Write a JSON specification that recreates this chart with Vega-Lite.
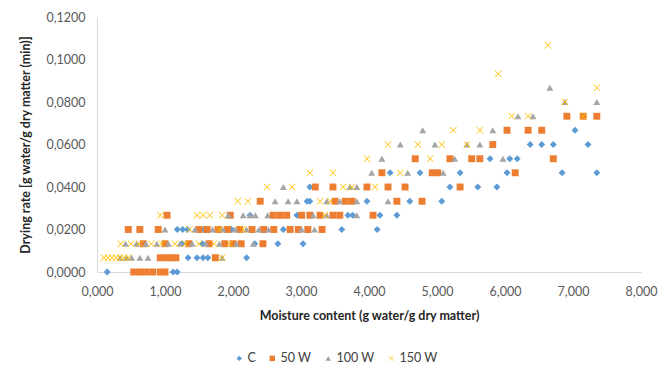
{
  "$schema": "https://vega.github.io/schema/vega-lite/v6.json",
  "width": 544,
  "height": 255,
  "autosize": {"type": "none"},
  "padding": {"left": 97, "top": 17, "right": 18, "bottom": 97},
  "background": "white",
  "config": {
    "view": {"stroke": null},
    "font": "Lato",
    "axis": {"grid": false, "ticks": false, "domainColor": "#d9d9d9", "domainWidth": 1, "labelColor": "#595959", "labelFontSize": 12.5, "labelFont": "Lato", "titleFont": "Lato", "titleFontSize": 12.5, "titleFontWeight": "bold", "titleColor": "#262626", "labelFlush": false, "labelOverlap": false}
  },
  "data": {"values": [
    {"m":0.15,"r":0,"s":"C"},{"m":1.12,"r":0,"s":"C"},{"m":1.18,"r":0,"s":"C"},
    {"m":1.34,"r":0.0067,"s":"C"},{"m":1.47,"r":0.0067,"s":"C"},{"m":1.56,"r":0.0067,"s":"C"},{"m":1.63,"r":0.0067,"s":"C"},{"m":2.2,"r":0.0067,"s":"C"},
    {"m":1.25,"r":0.0133,"s":"C"},{"m":1.55,"r":0.0133,"s":"C"},{"m":2.32,"r":0.0133,"s":"C"},{"m":2.66,"r":0.0133,"s":"C"},{"m":3.03,"r":0.0133,"s":"C"},
    {"m":1.18,"r":0.02,"s":"C"},{"m":1.26,"r":0.02,"s":"C"},{"m":1.33,"r":0.02,"s":"C"},{"m":1.57,"r":0.02,"s":"C"},{"m":1.98,"r":0.02,"s":"C"},{"m":2.74,"r":0.02,"s":"C"},{"m":3.6,"r":0.02,"s":"C"},{"m":4.12,"r":0.02,"s":"C"},
    {"m":2.25,"r":0.0267,"s":"C"},{"m":2.94,"r":0.0267,"s":"C"},{"m":3.69,"r":0.0267,"s":"C"},{"m":3.76,"r":0.0267,"s":"C"},{"m":4.16,"r":0.0267,"s":"C"},{"m":4.41,"r":0.0267,"s":"C"},
    {"m":3.09,"r":0.0333,"s":"C"},{"m":3.13,"r":0.0333,"s":"C"},{"m":3.97,"r":0.0333,"s":"C"},{"m":4.6,"r":0.0333,"s":"C"},{"m":5.07,"r":0.0333,"s":"C"},
    {"m":3.13,"r":0.04,"s":"C"},{"m":5.19,"r":0.04,"s":"C"},{"m":5.6,"r":0.04,"s":"C"},{"m":5.88,"r":0.04,"s":"C"},
    {"m":4.31,"r":0.0467,"s":"C"},{"m":4.75,"r":0.0467,"s":"C"},{"m":5.34,"r":0.0467,"s":"C"},{"m":6.03,"r":0.0467,"s":"C"},{"m":6.84,"r":0.0467,"s":"C"},{"m":7.35,"r":0.0467,"s":"C"},
    {"m":5.78,"r":0.0533,"s":"C"},{"m":6.07,"r":0.0533,"s":"C"},{"m":6.18,"r":0.0533,"s":"C"},
    {"m":6.37,"r":0.06,"s":"C"},{"m":6.54,"r":0.06,"s":"C"},{"m":6.71,"r":0.06,"s":"C"},{"m":7.22,"r":0.06,"s":"C"},
    {"m":7.03,"r":0.0667,"s":"C"},

    {"m":0.54,"r":0,"s":"50 W"},{"m":0.63,"r":0,"s":"50 W"},{"m":0.72,"r":0,"s":"50 W"},{"m":0.82,"r":0,"s":"50 W"},{"m":0.93,"r":0,"s":"50 W"},{"m":1.0,"r":0,"s":"50 W"},
    {"m":0.93,"r":0.0067,"s":"50 W"},{"m":1.01,"r":0.0067,"s":"50 W"},{"m":1.1,"r":0.0067,"s":"50 W"},{"m":1.16,"r":0.0067,"s":"50 W"},{"m":1.74,"r":0.0067,"s":"50 W"},
    {"m":0.68,"r":0.0133,"s":"50 W"},{"m":1.0,"r":0.0133,"s":"50 W"},{"m":1.35,"r":0.0133,"s":"50 W"},{"m":1.65,"r":0.0133,"s":"50 W"},{"m":1.88,"r":0.0133,"s":"50 W"},{"m":2.0,"r":0.0133,"s":"50 W"},{"m":2.12,"r":0.0133,"s":"50 W"},{"m":2.44,"r":0.0133,"s":"50 W"},
    {"m":0.46,"r":0.02,"s":"50 W"},{"m":0.63,"r":0.02,"s":"50 W"},{"m":0.9,"r":0.02,"s":"50 W"},{"m":1.5,"r":0.02,"s":"50 W"},{"m":1.62,"r":0.02,"s":"50 W"},{"m":1.78,"r":0.02,"s":"50 W"},{"m":1.92,"r":0.02,"s":"50 W"},{"m":2.1,"r":0.02,"s":"50 W"},{"m":2.28,"r":0.02,"s":"50 W"},{"m":2.45,"r":0.02,"s":"50 W"},{"m":2.6,"r":0.02,"s":"50 W"},{"m":2.84,"r":0.02,"s":"50 W"},{"m":2.96,"r":0.02,"s":"50 W"},{"m":3.1,"r":0.02,"s":"50 W"},{"m":3.31,"r":0.02,"s":"50 W"},
    {"m":1.03,"r":0.0267,"s":"50 W"},{"m":1.96,"r":0.0267,"s":"50 W"},{"m":2.59,"r":0.0267,"s":"50 W"},{"m":2.69,"r":0.0267,"s":"50 W"},{"m":2.79,"r":0.0267,"s":"50 W"},{"m":3.01,"r":0.0267,"s":"50 W"},{"m":3.13,"r":0.0267,"s":"50 W"},{"m":3.28,"r":0.0267,"s":"50 W"},{"m":3.47,"r":0.0267,"s":"50 W"},{"m":3.57,"r":0.0267,"s":"50 W"},{"m":4.06,"r":0.0267,"s":"50 W"},
    {"m":2.4,"r":0.0333,"s":"50 W"},{"m":3.5,"r":0.0333,"s":"50 W"},{"m":3.65,"r":0.0333,"s":"50 W"},{"m":3.75,"r":0.0333,"s":"50 W"},{"m":4.41,"r":0.0333,"s":"50 W"},{"m":4.78,"r":0.0333,"s":"50 W"},
    {"m":3.21,"r":0.04,"s":"50 W"},{"m":3.47,"r":0.04,"s":"50 W"},{"m":3.97,"r":0.04,"s":"50 W"},{"m":4.28,"r":0.04,"s":"50 W"},{"m":4.53,"r":0.04,"s":"50 W"},{"m":5.34,"r":0.04,"s":"50 W"},
    {"m":4.19,"r":0.0467,"s":"50 W"},{"m":4.93,"r":0.0467,"s":"50 W"},{"m":5.01,"r":0.0467,"s":"50 W"},{"m":6.15,"r":0.0467,"s":"50 W"},
    {"m":4.68,"r":0.0533,"s":"50 W"},{"m":5.19,"r":0.0533,"s":"50 W"},{"m":5.51,"r":0.0533,"s":"50 W"},{"m":5.63,"r":0.0533,"s":"50 W"},{"m":6.71,"r":0.0533,"s":"50 W"},
    {"m":5.82,"r":0.06,"s":"50 W"},
    {"m":6.03,"r":0.0667,"s":"50 W"},{"m":6.34,"r":0.0667,"s":"50 W"},{"m":6.54,"r":0.0667,"s":"50 W"},
    {"m":6.91,"r":0.0733,"s":"50 W"},{"m":7.15,"r":0.0733,"s":"50 W"},{"m":7.35,"r":0.0733,"s":"50 W"},

    {"m":0.34,"r":0.0067,"s":"100 W"},{"m":0.43,"r":0.0067,"s":"100 W"},{"m":0.51,"r":0.0067,"s":"100 W"},{"m":0.63,"r":0.0067,"s":"100 W"},{"m":0.75,"r":0.0067,"s":"100 W"},{"m":1.84,"r":0.0067,"s":"100 W"},
    {"m":0.42,"r":0.0133,"s":"100 W"},{"m":0.58,"r":0.0133,"s":"100 W"},{"m":0.72,"r":0.0133,"s":"100 W"},{"m":0.88,"r":0.0133,"s":"100 W"},{"m":1.05,"r":0.0133,"s":"100 W"},{"m":1.22,"r":0.0133,"s":"100 W"},{"m":1.4,"r":0.0133,"s":"100 W"},{"m":1.6,"r":0.0133,"s":"100 W"},{"m":1.8,"r":0.0133,"s":"100 W"},{"m":2.05,"r":0.0133,"s":"100 W"},{"m":2.3,"r":0.0133,"s":"100 W"},
    {"m":1.0,"r":0.02,"s":"100 W"},{"m":1.44,"r":0.02,"s":"100 W"},{"m":1.7,"r":0.02,"s":"100 W"},{"m":1.85,"r":0.02,"s":"100 W"},{"m":2.03,"r":0.02,"s":"100 W"},{"m":2.2,"r":0.02,"s":"100 W"},{"m":2.38,"r":0.02,"s":"100 W"},{"m":2.52,"r":0.02,"s":"100 W"},{"m":3.01,"r":0.02,"s":"100 W"},{"m":3.2,"r":0.02,"s":"100 W"},
    {"m":1.93,"r":0.0267,"s":"100 W"},{"m":2.15,"r":0.0267,"s":"100 W"},{"m":2.25,"r":0.0267,"s":"100 W"},{"m":2.33,"r":0.0267,"s":"100 W"},{"m":2.51,"r":0.0267,"s":"100 W"},{"m":3.18,"r":0.0267,"s":"100 W"},{"m":3.38,"r":0.0267,"s":"100 W"},{"m":3.82,"r":0.0267,"s":"100 W"},
    {"m":2.62,"r":0.0333,"s":"100 W"},{"m":2.81,"r":0.0333,"s":"100 W"},{"m":2.94,"r":0.0333,"s":"100 W"},{"m":3.38,"r":0.0333,"s":"100 W"},{"m":3.57,"r":0.0333,"s":"100 W"},{"m":3.82,"r":0.0333,"s":"100 W"},{"m":4.28,"r":0.0333,"s":"100 W"},
    {"m":2.74,"r":0.04,"s":"100 W"},{"m":3.72,"r":0.04,"s":"100 W"},{"m":3.82,"r":0.04,"s":"100 W"},
    {"m":4.04,"r":0.0467,"s":"100 W"},{"m":4.57,"r":0.0467,"s":"100 W"},{"m":5.09,"r":0.0467,"s":"100 W"},
    {"m":4.19,"r":0.0533,"s":"100 W"},{"m":5.26,"r":0.0533,"s":"100 W"},{"m":5.97,"r":0.0533,"s":"100 W"},
    {"m":4.46,"r":0.06,"s":"100 W"},{"m":4.97,"r":0.06,"s":"100 W"},{"m":5.44,"r":0.06,"s":"100 W"},{"m":5.63,"r":0.06,"s":"100 W"},
    {"m":4.79,"r":0.0667,"s":"100 W"},{"m":5.82,"r":0.0667,"s":"100 W"},
    {"m":6.19,"r":0.0733,"s":"100 W"},{"m":6.41,"r":0.0733,"s":"100 W"},
    {"m":6.88,"r":0.08,"s":"100 W"},{"m":7.35,"r":0.08,"s":"100 W"},
    {"m":6.66,"r":0.0867,"s":"100 W"},

    {"m":0.1,"r":0.0067,"s":"150 W"},{"m":0.16,"r":0.0067,"s":"150 W"},{"m":0.22,"r":0.0067,"s":"150 W"},{"m":0.28,"r":0.0067,"s":"150 W"},{"m":0.34,"r":0.0067,"s":"150 W"},{"m":0.4,"r":0.0067,"s":"150 W"},{"m":0.46,"r":0.0067,"s":"150 W"},{"m":1.84,"r":0.0067,"s":"150 W"},
    {"m":0.35,"r":0.0133,"s":"150 W"},{"m":0.5,"r":0.0133,"s":"150 W"},{"m":0.62,"r":0.0133,"s":"150 W"},{"m":0.8,"r":0.0133,"s":"150 W"},{"m":0.95,"r":0.0133,"s":"150 W"},{"m":1.15,"r":0.0133,"s":"150 W"},{"m":1.3,"r":0.0133,"s":"150 W"},{"m":1.5,"r":0.0133,"s":"150 W"},{"m":1.72,"r":0.0133,"s":"150 W"},{"m":1.95,"r":0.0133,"s":"150 W"},
    {"m":1.36,"r":0.02,"s":"150 W"},{"m":1.8,"r":0.02,"s":"150 W"},{"m":2.15,"r":0.02,"s":"150 W"},
    {"m":0.93,"r":0.0267,"s":"150 W"},{"m":1.47,"r":0.0267,"s":"150 W"},{"m":1.56,"r":0.0267,"s":"150 W"},{"m":1.66,"r":0.0267,"s":"150 W"},{"m":1.84,"r":0.0267,"s":"150 W"},{"m":3.35,"r":0.0267,"s":"150 W"},
    {"m":2.07,"r":0.0333,"s":"150 W"},{"m":2.22,"r":0.0333,"s":"150 W"},{"m":3.28,"r":0.0333,"s":"150 W"},{"m":3.43,"r":0.0333,"s":"150 W"},
    {"m":2.5,"r":0.04,"s":"150 W"},{"m":2.87,"r":0.04,"s":"150 W"},{"m":3.62,"r":0.04,"s":"150 W"},{"m":3.75,"r":0.04,"s":"150 W"},{"m":4.09,"r":0.04,"s":"150 W"},
    {"m":3.13,"r":0.0467,"s":"150 W"},{"m":3.47,"r":0.0467,"s":"150 W"},{"m":4.46,"r":0.0467,"s":"150 W"},
    {"m":3.97,"r":0.0533,"s":"150 W"},{"m":4.9,"r":0.0533,"s":"150 W"},
    {"m":4.28,"r":0.06,"s":"150 W"},{"m":4.72,"r":0.06,"s":"150 W"},{"m":5.07,"r":0.06,"s":"150 W"},{"m":5.44,"r":0.06,"s":"150 W"},
    {"m":5.24,"r":0.0667,"s":"150 W"},{"m":5.63,"r":0.0667,"s":"150 W"},
    {"m":6.1,"r":0.0733,"s":"150 W"},{"m":6.34,"r":0.0733,"s":"150 W"},{"m":7.15,"r":0.0733,"s":"150 W"},
    {"m":6.88,"r":0.08,"s":"150 W"},
    {"m":7.35,"r":0.0867,"s":"150 W"},
    {"m":5.9,"r":0.0933,"s":"150 W"},
    {"m":6.63,"r":0.1067,"s":"150 W"}
  ]},
  "mark": {"type": "point", "filled": true, "opacity": 1, "size": 48},
  "encoding": {
    "x": {"field": "m", "type": "quantitative", "title": "Moisture content (g water/g dry matter)",
      "scale": {"domain": [0, 8], "nice": false, "zero": true},
      "axis": {"values": [0,1,2,3,4,5,6,7,8], "labelExpr": "replace(format(datum.value, '.3f'), '.', ',')", "labelPadding": 13, "titlePadding": 12}},
    "y": {"field": "r", "type": "quantitative", "title": "Drying rate [g water/g dry matter (min)]",
      "scale": {"domain": [0, 0.12], "nice": false},
      "axis": {"values": [0,0.02,0.04,0.06,0.08,0.1,0.12], "labelExpr": "replace(format(datum.value, '.4f'), '.', ',')", "labelPadding": 12, "titlePadding": 13}},
    "color": {"field": "s", "type": "nominal", "sort": ["C","50 W","100 W","150 W"],
      "scale": {"domain": ["C","50 W","100 W","150 W"], "range": ["#5B9BD5","#ED7D31","#A5A5A5","#FFC000"]},
      "legend": {"title": null, "orient": "none", "direction": "horizontal", "legendX": 136, "legendY": 335, "labelFontSize": 12.5, "labelColor": "#404040", "symbolSize": 30, "columnPadding": 10, "labelOffset": 2}},
    "shape": {"field": "s", "type": "nominal",
      "scale": {"domain": ["C","50 W","100 W","150 W"], "range": ["diamond","square","triangle-up","M-0.85,-1L0,-0.15L0.85,-1L1,-0.85L0.15,0L1,0.85L0.85,1L0,0.15L-0.85,1L-1,0.85L-0.15,0L-1,-0.85Z"]},
      "legend": null}
  }
}
